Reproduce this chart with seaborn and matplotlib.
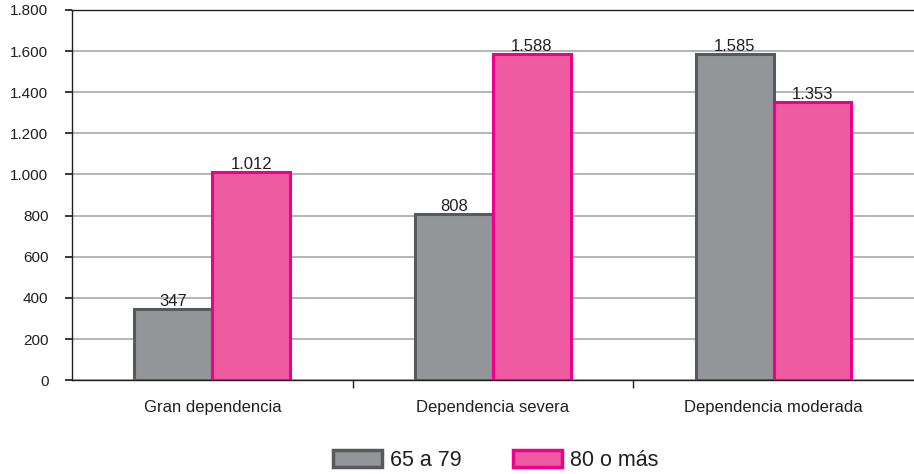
import matplotlib
matplotlib.use("Agg")
import matplotlib.pyplot as plt
import seaborn as sns
import pandas as pd
from matplotlib.ticker import FuncFormatter, FixedLocator
from matplotlib.patches import Patch

categories = ["Gran dependencia", "Dependencia severa", "Dependencia moderada"]
series_names = ["65 a 79", "80 o más"]
vals_65_79 = [347, 808, 1585]
vals_80 = [1012, 1588, 1353]

df = pd.DataFrame({
    "cat": categories * 2,
    "grupo": [series_names[0]] * 3 + [series_names[1]] * 3,
    "valor": vals_65_79 + vals_80,
})

sns.set_theme(style="white")
plt.rcParams['font.family'] = ['Liberation Sans', 'DejaVu Sans']

fills = ["#939598", "#ef5ba1"]
edges = ["#58595b", "#ec008c"]
txt = "#231f20"

fig = plt.figure(figsize=(9.14, 4.74), dpi=100)
ax = fig.add_axes([0.0788, 0.198, 0.921, 0.781])

sns.barplot(data=df, x="cat", y="valor", hue="grupo", palette=fills,
            width=0.555, gap=0.0, ax=ax, legend=False, saturation=1)

for i, cont in enumerate(ax.containers):
    for p in cont:
        p.set_edgecolor(edges[i])
        p.set_linewidth(2.2)
        p.set_zorder(3)
    ax.bar_label(cont, labels=[f"{int(v):,}".replace(",", ".") for v in cont.datavalues],
                 fontsize=12, color=txt, padding=0)

fmt = lambda v, _: f"{int(v):,}".replace(",", ".")
ax.set_ylim(0, 1800)
ax.set_xlim(-0.5, 2.5)
ax.set_yticks(range(0, 1801, 200))
ax.yaxis.set_major_formatter(FuncFormatter(fmt))
ax.grid(axis="y", color="#a7a9ac", linewidth=1.2, zorder=0)
ax.set_axisbelow(True)
ax.set_xlabel("")
ax.set_ylabel("")

ax.spines["right"].set_visible(False)
for s in ["left", "bottom", "top"]:
    ax.spines[s].set_color(txt)
    ax.spines[s].set_linewidth(1.0)

ax.tick_params(axis="y", which="major", length=5, direction="out", color=txt,
               labelsize=11, labelcolor=txt, left=True, pad=12)
ax.tick_params(axis="x", which="major", length=0, labelsize=12, labelcolor=txt, pad=14)
ax.xaxis.set_minor_locator(FixedLocator([0.5, 1.5]))
ax.tick_params(axis="x", which="minor", length=6, direction="out", color=txt, bottom=True)

handles = [Patch(facecolor=fills[i], edgecolor=edges[i], linewidth=2.5, label=series_names[i])
           for i in range(2)]
fig.legend(handles=handles, loc="center", bbox_to_anchor=(0.542, 0.029), ncol=2,
           frameon=False, fontsize=15.5, handlelength=2.3, handleheight=0.8,
           columnspacing=2.4, handletextpad=0.35, labelcolor=txt,
           borderpad=0.0, borderaxespad=0.0)

fig.savefig("out.png", dpi=100)
